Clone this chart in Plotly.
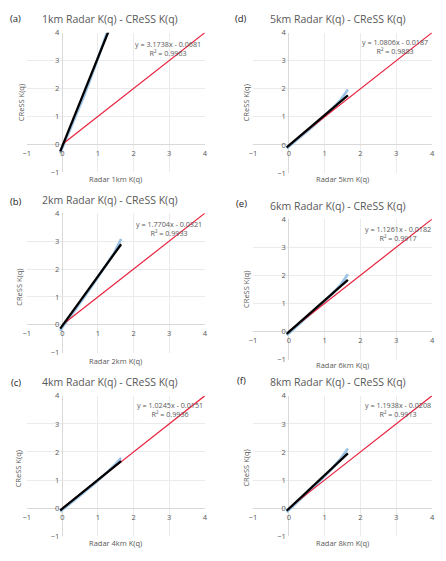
import plotly.graph_objects as go

# ---------------- data ----------------
panel_letters = ["(a)", "(b)", "(c)", "(d)", "(e)", "(f)"]
resolutions = ["1km", "2km", "4km", "5km", "6km", "8km"]
slopes = [3.1738, 1.7704, 1.0245, 1.0806, 1.1261, 1.1938]
intercepts = [-0.0681, -0.0321, -0.0151, -0.0187, -0.0182, -0.0208]
r_squared = ["0.9963", "0.9933", "0.9936", "0.9883", "0.9917", "0.9913"]

radar_kq = [-0.06, 0.0, 0.3, 0.6, 0.9, 1.2, 1.45, 1.65]
cress_kq_1km = [-0.32, -0.14, 0.75, 1.70, 2.72, 3.75, 4.62, 5.45]
cress_kq_2km = [-0.22, -0.09, 0.42, 0.96, 1.52, 2.09, 2.57, 3.08]
cress_kq_4km = [-0.13, -0.06, 0.25, 0.55, 0.87, 1.21, 1.51, 1.79]
cress_kq_5km = [-0.13, -0.07, 0.26, 0.58, 0.91, 1.27, 1.61, 1.97]
cress_kq_6km = [-0.13, -0.07, 0.27, 0.61, 0.95, 1.32, 1.67, 2.04]
cress_kq_8km = [-0.14, -0.07, 0.29, 0.64, 1.01, 1.40, 1.77, 2.12]
cress_series = [cress_kq_1km, cress_kq_2km, cress_kq_4km,
                cress_kq_5km, cress_kq_6km, cress_kq_8km]

trend_x_range = [-0.06, 1.65]
identity_x = [0, 4]
tick_vals = [-1, 0, 1, 2, 3, 4]

# ---------------- layout geometry (window pixels) ----------------
WIN_W, WIN_H = 446, 561
BODY = 8  # default page margin around the plot div
W, H = WIN_W - 2 * BODY, WIN_H - 2 * BODY

boxes = [
    (23, 204, 28, 170),
    (23, 204, 212, 354),
    (23, 204, 398, 541),
    (253, 435, 28, 171),
    (253, 435, 218, 361),
    (253, 435, 398, 541),
]
title_pos = [(108, 14), (108, 198), (108, 384), (339, 14), (339, 205), (339, 384)]
letter_pos = [(12, 10), (12, 200), (12, 384), (241, 9), (241, 202), (241, 382)]
xtitle_pos = [(113, 177), (113, 362), (113, 548), (344, 177), (344, 367), (344, 548)]
ytitle_pos = [(17, 99), (15, 287), (15, 472), (246, 100), (246, 290), (246, 472)]
eq_pos = [(167, 36), (168, 220), (169, 404), (397, 34), (400, 225), (400, 404)]

GRAY = "#595959"
FONT = "Open Sans"

def px(x):
    return (x - BODY) / W

def py(y):
    return 1 - (y - BODY) / H

def text_y(y, half):
    # returns (y, yanchor, yshift) keeping text within the figure's top edge
    if y - half < BODY:
        return 1.0, "top", 2
    return py(y), "middle", 0

fig = go.Figure()
annotations = []

for i in range(6):
    l, r, t, b = boxes[i]
    xd = [px(l), px(r)]
    yd = [py(b), py(t)]
    xa = "x" if i == 0 else f"x{i+1}"
    ya = "y" if i == 0 else f"y{i+1}"
    xkey = "xaxis" if i == 0 else f"xaxis{i+1}"
    ykey = "yaxis" if i == 0 else f"yaxis{i+1}"

    zero_y_paper = yd[0] + (0 - (-1)) / 5 * (yd[1] - yd[0])
    zero_x_paper = xd[0] + (0 - (-1)) / 5 * (xd[1] - xd[0])

    common = dict(range=[-1, 4], anchor="free", tickvals=tick_vals,
                  showgrid=True, gridcolor="#EBEBEB", gridwidth=1,
                  zeroline=True, zerolinecolor="#D9D9D9", zerolinewidth=1,
                  showline=False, ticks="", ticklabelstandoff=3,
                  tickfont=dict(size=7.5, color=GRAY, family=FONT), fixedrange=True)
    fig.update_layout(**{
        xkey: dict(domain=xd, position=zero_y_paper, **common),
        ykey: dict(domain=yd, position=zero_x_paper, **common),
    })

    # data (light blue)
    fig.add_trace(go.Scatter(x=radar_kq, y=cress_series[i], mode="lines",
                             line=dict(color="#9CC3E5", width=2.6),
                             xaxis=xa, yaxis=ya, showlegend=False))
    # red 1:1 line
    fig.add_trace(go.Scatter(x=identity_x, y=identity_x, mode="lines",
                             line=dict(color="#E8213E", width=1.2),
                             xaxis=xa, yaxis=ya, showlegend=False))
    # black linear trendline
    tx = trend_x_range
    ty = [slopes[i] * v + intercepts[i] for v in tx]
    fig.add_trace(go.Scatter(x=tx, y=ty, mode="lines",
                             line=dict(color="#000000", width=2.3),
                             xaxis=xa, yaxis=ya, showlegend=False))

    yv, ya_, ys = text_y(title_pos[i][1], 7)
    annotations.append(dict(text=f"{resolutions[i]} Radar K(q) - CReSS K(q)",
                            x=px(title_pos[i][0]), y=yv, yanchor=ya_, yshift=ys,
                            xref="paper", yref="paper", xanchor="center",
                            showarrow=False, borderpad=0,
                            font=dict(size=10.5, color=GRAY, family=FONT)))
    yv, ya_, ys = text_y(letter_pos[i][1], 6)
    annotations.append(dict(text=panel_letters[i],
                            x=px(letter_pos[i][0]), y=yv, yanchor=ya_, yshift=ys,
                            xref="paper", yref="paper", xanchor="center",
                            showarrow=False, borderpad=0,
                            font=dict(size=9.5, color="#222222", family=FONT)))
    annotations.append(dict(text=f"Radar {resolutions[i]} K(q)",
                            x=px(xtitle_pos[i][0]), y=py(xtitle_pos[i][1]),
                            xref="paper", yref="paper", xanchor="center", yanchor="middle",
                            showarrow=False, font=dict(size=7.5, color=GRAY, family=FONT)))
    annotations.append(dict(text="CReSS K(q)", textangle=-90,
                            x=px(ytitle_pos[i][0]), y=py(ytitle_pos[i][1]),
                            xref="paper", yref="paper", xanchor="center", yanchor="middle",
                            showarrow=False, font=dict(size=7.5, color=GRAY, family=FONT)))
    sign = "-" if intercepts[i] < 0 else "+"
    eq = f"y = {slopes[i]:.4f}x {sign} {abs(intercepts[i]):.4f}<br>R² = {r_squared[i]}"
    annotations.append(dict(text=eq, align="center",
                            x=px(eq_pos[i][0]), y=py(eq_pos[i][1] - 4),
                            xref="paper", yref="paper", xanchor="center", yanchor="top",
                            showarrow=False, font=dict(size=7.2, color=GRAY, family=FONT)))

fig.update_layout(width=W, height=H, margin=dict(l=0, r=0, t=0, b=0),
                  paper_bgcolor="white", plot_bgcolor="white",
                  annotations=annotations, showlegend=False)

fig.write_html("out.html")
